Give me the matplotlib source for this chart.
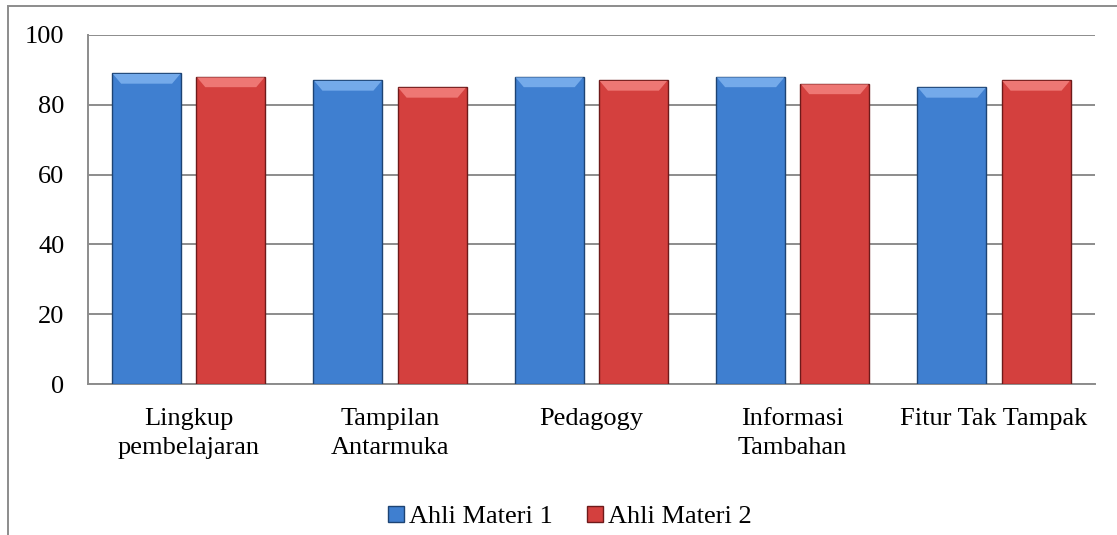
import numpy as np
import matplotlib
matplotlib.use("Agg")
import matplotlib.pyplot as plt
from matplotlib.patches import Rectangle, Polygon

categories = ["Lingkup\npembelajaran", "Tampilan\nAntarmuka", "Pedagogy",
              "Informasi\nTambahan", "Fitur Tak Tampak"]
ahli1 = [89, 87, 88, 88, 85]
ahli2 = [88, 85, 87, 86, 87]
series_names = ["Ahli Materi 1", "Ahli Materi 2"]
yticks = [0, 20, 40, 60, 80, 100]

plt.rcParams['font.family'] = ['Liberation Serif', 'DejaVu Serif']
fam = ['Liberation Serif', 'DejaVu Serif']
fs = 19

fig = plt.figure(figsize=(11.17, 5.35), dpi=100)
ax = fig.add_axes([0.0788, 0.282, 0.9012, 0.653])

x = np.arange(len(categories))
w = 0.343
off = 0.209

#main bars
b1 = ax.bar(x - off, ahli1, w, color="#3F7FD0", edgecolor="#1D4373", linewidth=1.0, zorder=3)
b2 = ax.bar(x + off, ahli2, w, color="#D4403E", edgecolor="#6E1A1A", linewidth=1.0, zorder=3)

#bevel on top of every bar, built from the bar patches
for bars, light in [(b1, "#74AAEA"), (b2, "#EE7774")]:
    for p in bars:
        x0, x1 = p.get_x(), p.get_x() + p.get_width()
        h = p.get_height()
        inset = 0.045
        ax.add_patch(Polygon([(x0 + 0.004, h - 0.2), (x1 - 0.004, h - 0.2),
                              (x1 - inset, h - 3.0), (x0 + inset, h - 3.0)],
                             closed=True, facecolor=light, edgecolor="none", zorder=4))

ax.set_xlim(-0.5, len(categories) - 0.5)
ax.set_ylim(0, 100)
ax.set_yticks(yticks)
ax.set_yticklabels([str(v) for v in yticks], fontsize=fs, family=fam)
ax.set_xticks(x)
ax.set_xticklabels(categories, fontsize=fs, family=fam, va="top", linespacing=1.4)
ax.tick_params(axis="y", length=0, pad=17)
ax.tick_params(axis="x", length=0, pad=17)

ax.grid(axis="y", color="#8C8C8C", linewidth=1.4, zorder=0)
for s in ["top", "right"]:
    ax.spines[s].set_visible(False)
for s in ["left", "bottom"]:
    ax.spines[s].set_color("#8C8C8C")
    ax.spines[s].set_linewidth(1.4)

#legend
fig.legend([b1, b2], series_names, loc="center", bbox_to_anchor=(570 / 1117, 1 - 517 / 535),
           ncol=2, frameon=False, prop={"family": fam, "size": fs},
           handlelength=0.6, handleheight=0.6, handletextpad=0.2, columnspacing=1.3)

#outer chart frame
fig.add_artist(Rectangle((8 / 1117, -0.2), 1.2, 1.2 - 6 / 535,
                         transform=fig.transFigure, fill=False,
                         edgecolor="#8C8C8C", linewidth=1.4))

plt.savefig("out.png", dpi=100)
